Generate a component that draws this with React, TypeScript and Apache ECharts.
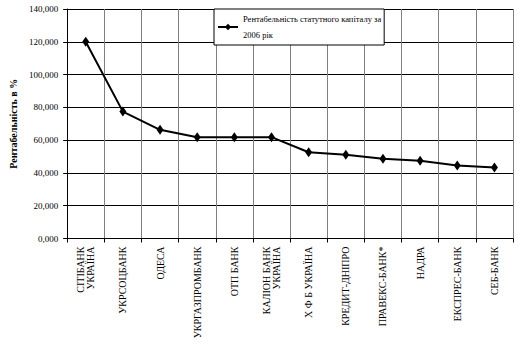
import React, { useEffect, useRef } from "react";
import * as echarts from "echarts";

const categories = [
  "СІТІБАНК\nУКРАЇНА",
  "УКРСОЦБАНК",
  "ОДЕСА",
  "УКРГАЗПРОМБАНК",
  "ОТП БАНК",
  "КАЛІОН БАНК\nУКРАЇНА",
  "Х Ф Б УКРАЇНА",
  "КРЕДИТ-ДНІПРО",
  "ПРАВЕКС-БАНК*",
  "НАДРА",
  "ЕКСПРЕС-БАНК",
  "СЕБ-БАНК",
];
const values = [120.0, 77.4, 66.3, 61.8, 61.8, 61.8, 52.6, 51.1, 48.6, 47.4, 44.6, 43.3];
const seriesName = "Рентабельність статутного капіталу за 2006 рік";
const legendText = "Рентабельність статутного капіталу за\n2006 рік";
const yAxisTitle = "Рентабельність в %";

const FONT = "'Liberation Serif', 'Times New Roman', serif";

export default function App() {
  const ref = useRef<HTMLDivElement>(null);
  useEffect(() => {
    const chart = echarts.init(ref.current!, undefined, { renderer: "svg" });
    chart.setOption({
      animation: false,
      backgroundColor: "#ffffff",
      textStyle: { fontFamily: FONT },
      grid: { left: 52, right: 5, top: 9, bottom: 112.5 },
      legend: {
        left: 214,
        top: 9,
        orient: "vertical",
        backgroundColor: "#ffffff",
        borderColor: "#000000",
        borderWidth: 1,
        borderRadius: 0,
        padding: [2, 3, 2, 3],
        itemWidth: 20,
        itemHeight: 8,
        itemGap: 4,
        formatter: () => legendText,
        textStyle: { fontFamily: FONT, fontSize: 8.5, color: "#000", lineHeight: 16 },
        data: [seriesName],
      },
      xAxis: {
        type: "category",
        data: categories,
        boundaryGap: true,
        axisLine: { lineStyle: { color: "#000", width: 1 } },
        axisTick: { show: true, alignWithLabel: false, length: 4, lineStyle: { color: "#000" } },
        splitLine: { show: true, lineStyle: { color: "#808080", width: 1 } },
        axisLabel: {
          rotate: 90,
          interval: 0,
          margin: 8,
          fontFamily: FONT,
          fontSize: 10,
          color: "#000",
          lineHeight: 10,
        },
      },
      yAxis: {
        type: "value",
        min: 0,
        max: 140,
        interval: 20,
        name: yAxisTitle,
        nameLocation: "middle",
        nameGap: 40,
        nameTextStyle: { fontFamily: FONT, fontSize: 10, fontWeight: "bold", color: "#000" },
        axisLine: { show: true, lineStyle: { color: "#000", width: 1 } },
        axisTick: { show: true, length: 4, lineStyle: { color: "#000" } },
        splitLine: { show: true, lineStyle: { color: "#000", width: 1 } },
        axisLabel: {
          margin: 9,
          fontFamily: FONT,
          fontSize: 9,
          color: "#000",
          formatter: (v: number) => v.toFixed(3).replace(".", ","),
        },
      },
      series: [
        {
          name: seriesName,
          type: "line",
          data: values,
          symbol: "diamond",
          symbolSize: [7, 10],
          lineStyle: { color: "#000", width: 2 },
          itemStyle: { color: "#000" },
        },
      ],
    });
    return () => chart.dispose();
  }, []);
  return (
    <div
      ref={ref}
      style={{ position: "absolute", left: 0, top: 0, width: 518, height: 351, background: "#fff" }}
    />
  );
}
